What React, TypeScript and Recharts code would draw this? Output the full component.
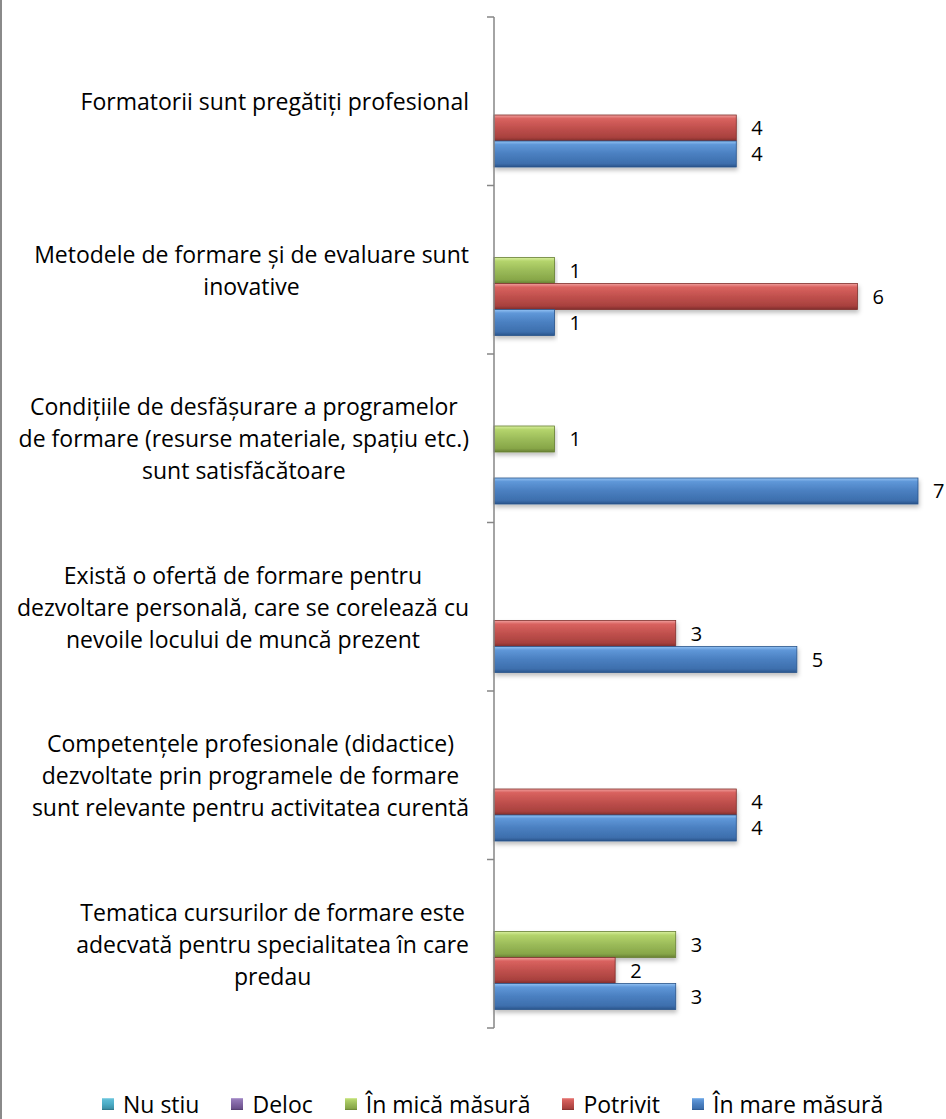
import React from "react";
import { BarChart, Bar, XAxis, YAxis, Legend, LabelList } from "recharts";

// category labels, top to bottom (line breaks as wrapped in the original)
const categories = [
  "Formatorii sunt pregătiți profesional",
  "Metodele de formare și de evaluare sunt\ninovative",
  "Condițiile de desfășurare a programelor\nde formare (resurse materiale, spațiu etc.)\nsunt satisfăcătoare",
  "Există o ofertă de formare pentru\ndezvoltare personală, care se corelează cu\nnevoile locului de muncă prezent",
  "Competențele profesionale (didactice)\ndezvoltate prin programele de formare\nsunt relevante pentru activitatea curentă",
  "Tematica cursurilor de formare este\nadecvată pentru specialitatea în care\npredau",
];

const nuStiu = [null, null, null, null, null, null];
const deloc = [null, null, null, null, null, null];
const inMicaMasura = [null, 1, 1, null, null, 3];
const potrivit = [4, 6, null, 3, 4, 2];
const inMareMasura = [4, 1, 7, 5, 4, 3];

const series = [
  { key: "nuStiu", name: "Nu stiu", values: nuStiu, stops: ["#9fdcec", "#5dbbd4", "#4bacc6", "#3e93aa", "#2b6f82"] },
  { key: "deloc", name: "Deloc", values: deloc, stops: ["#bda8da", "#9379b6", "#8064a2", "#6c528c", "#4f3b69"] },
  { key: "mica", name: "În mică măsură", values: inMicaMasura, stops: ["#d9ef9f", "#b4d46c", "#9bbb59", "#87a648", "#677f33"] },
  { key: "potrivit", name: "Potrivit", values: potrivit, stops: ["#f0a09e", "#d9625f", "#c0504d", "#a8413e", "#7f2e2b"] },
  { key: "mare", name: "În mare măsură", values: inMareMasura, stops: ["#93c2f3", "#5f97d8", "#4a7fc0", "#3d6fad", "#2a548b"] },
];

const data = categories.map((c, i) => {
  const row: Record<string, any> = { category: c };
  series.forEach((s) => (row[s.key] = s.values[i]));
  return row;
});

const W = 946;
const H = 1119;
const TOP = 17;
const BOTTOM = 91;
const AXIS_W = 494;
const RIGHT = 28;
const BAND = (H - TOP - BOTTOM) / categories.length;
const FONT = "'Open Sans', 'Noto Sans', sans-serif";

const CategoryTick = (props: any) => {
  const { y, payload, index } = props;
  const lines = String(payload.value).split("\n");
  return (
    <g>
      <line x1={AXIS_W - 7} x2={AXIS_W} y1={y - BAND / 2} y2={y - BAND / 2} stroke="#868686" strokeWidth={1.5} />
      {index === categories.length - 1 && (
        <line x1={AXIS_W - 7} x2={AXIS_W} y1={y + BAND / 2} y2={y + BAND / 2} stroke="#868686" strokeWidth={1.5} />
      )}
      <foreignObject x={0} y={y - BAND / 2} width={469} height={BAND}>
        <div
          style={{
            height: "100%",
            display: "flex",
            alignItems: "center",
            justifyContent: "flex-end",
          }}
        >
          <div style={{ textAlign: "center", fontFamily: FONT, fontSize: 23, lineHeight: "32px", color: "#000" }}>
            {lines.map((l, i) => (
              <div key={i} style={{ whiteSpace: "nowrap" }}>{l}</div>
            ))}
          </div>
        </div>
      </foreignObject>
    </g>
  );
};

const BevelBar = (props: any) => {
  const { x, y, width, height, fill, stroke } = props;
  if (!width || width <= 0) return null;
  return (
    <rect x={x} y={y} width={width} height={height} fill={fill} stroke={stroke} strokeWidth={0.8} filter="url(#barShadow)" />
  );
};

const renderValue = (props: any) => {
  const { x, y, width, height, value } = props;
  if (value == null || value === 0) return null;
  return (
    <text x={x + width + 15} y={y + height / 2 + 2} dominantBaseline="middle" fontFamily={FONT} fontSize={20} fill="#000">
      {value}
    </text>
  );
};

// legend drawn in series order (recharts would sort it by name)
const renderLegend = () => (
  <div style={{ display: "flex", alignItems: "center", gap: 32, paddingLeft: 102, fontFamily: FONT, fontSize: 23 }}>
    {series.map((s) => (
      <div key={s.key} style={{ display: "flex", alignItems: "center" }}>
        <svg width={12} height={12} style={{ marginRight: 9 }}>
          <rect x={0} y={0} width={12} height={12} fill={`url(#grad-${s.key})`} />
        </svg>
        <span>{s.name}</span>
      </div>
    ))}
  </div>
);

export default function App() {
  return (
    <div style={{ position: "absolute", left: 0, top: 0, width: W, height: H, background: "#fff", overflow: "hidden" }}>
      <div style={{ position: "absolute", left: 0, top: 0, width: 2, height: H, background: "#8a8a8a" }} />
      <BarChart
        width={W}
        height={H}
        data={data}
        layout="vertical"
        margin={{ top: TOP, right: RIGHT, bottom: BOTTOM, left: 0 }}
        barCategoryGap={20}
        barGap={0}
      >
        <defs>
          {series.map((s) => (
            <linearGradient key={s.key} id={`grad-${s.key}`} x1="0" y1="0" x2="0" y2="1">
              <stop offset="0%" stopColor={s.stops[0]} />
              <stop offset="14%" stopColor={s.stops[1]} />
              <stop offset="50%" stopColor={s.stops[2]} />
              <stop offset="86%" stopColor={s.stops[3]} />
              <stop offset="100%" stopColor={s.stops[4]} />
            </linearGradient>
          ))}
          <filter id="barShadow" x="-5%" y="-20%" width="110%" height="160%">
            <feDropShadow dx="1" dy="3" stdDeviation="2" floodColor="#000" floodOpacity="0.25" />
          </filter>
        </defs>
        <XAxis type="number" domain={[0, 7]} hide />
        <YAxis
          type="category"
          dataKey="category"
          width={AXIS_W}
          axisLine={{ stroke: "#868686", strokeWidth: 1.5 }}
          tickLine={false}
          tick={<CategoryTick />}
          interval={0}
        />
        <Legend
          layout="vertical"
          align="center"
          verticalAlign="middle"
          content={renderLegend}
          wrapperStyle={{ position: "absolute", left: 0, top: 1088, width: W }}
        />
        {series.map((s) => (
          <Bar
            key={s.key}
            dataKey={s.key}
            name={s.name}
            fill={`url(#grad-${s.key})`}
            stroke={s.stops[4]}
            shape={<BevelBar />}
            isAnimationActive={false}
          >
            <LabelList dataKey={s.key} content={renderValue} />
          </Bar>
        ))}
      </BarChart>
    </div>
  );
}
